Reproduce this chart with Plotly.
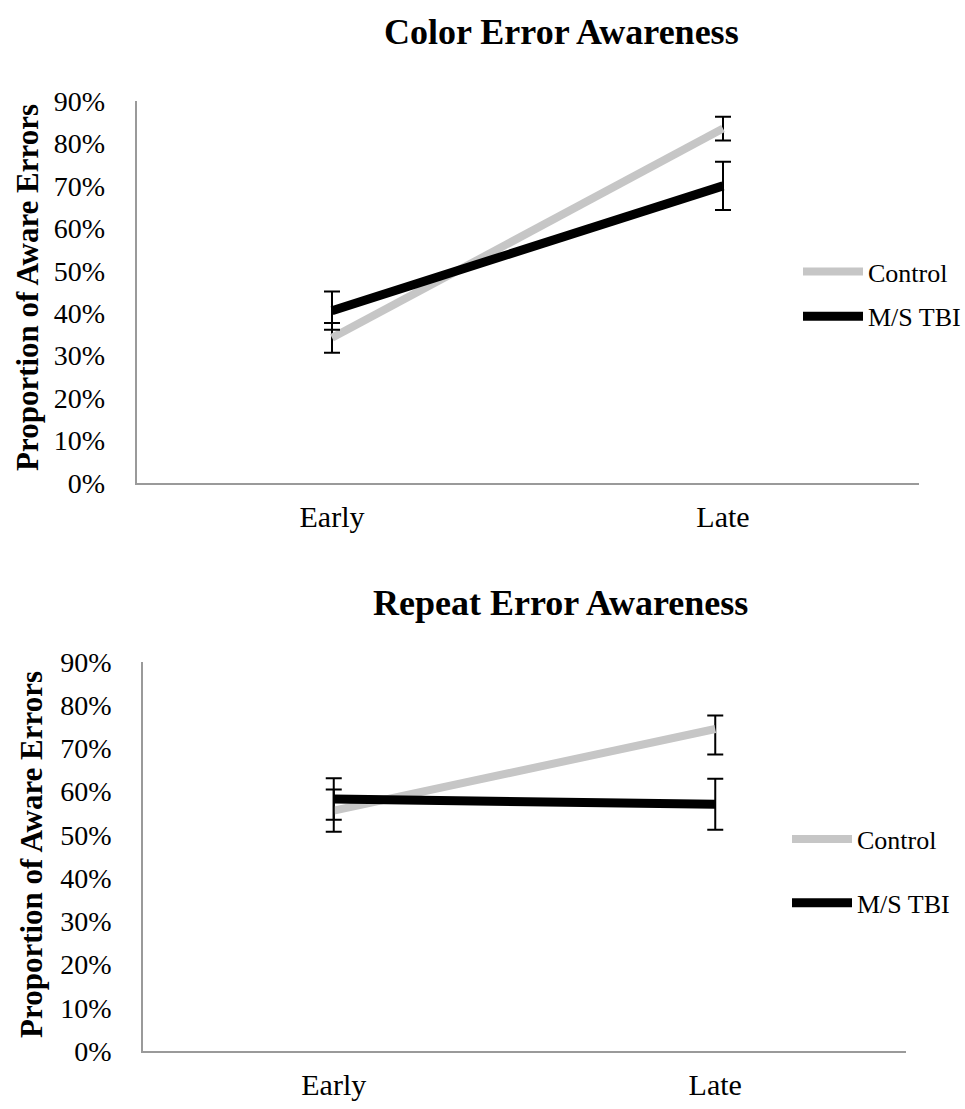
import plotly.graph_objects as go

# ---- data ----
phases = ["Early", "Late"]
groups = ["Control", "M/S TBI"]

color_control = [0.342, 0.835]
color_control_err = [0.035, 0.028]
color_tbi = [0.406, 0.700]
color_tbi_err = [0.045, 0.057]

repeat_control = [0.556, 0.745]
repeat_control_err_plus = [0.049, 0.031]
repeat_control_err_minus = [0.049, 0.059]
repeat_tbi = [0.583, 0.571]
repeat_tbi_err = [0.048, 0.059]

y_ticks = [0, 0.1, 0.2, 0.3, 0.4, 0.5, 0.6, 0.7, 0.8, 0.9]

# ---- styling ----
W, H = 965, 1109
FONT = "Times New Roman, Liberation Serif, serif"
GRAY = "#c6c6c6"
BLACK = "#000000"
AXIS = "#9a9a9a"

def px_x(p):
    return p / W

def px_y(p):
    return 1 - p / H

fig = go.Figure()

def add_pair(xa, ya, legend, ctrl, ctrl_plus, ctrl_minus, tbi, tbi_err):
    fig.add_trace(go.Scatter(
        x=phases, y=ctrl, name=groups[0], mode="lines",
        line=dict(color=GRAY, width=8),
        error_y=dict(type="data", array=ctrl_plus, arrayminus=ctrl_minus,
                     symmetric=False, color=BLACK, thickness=2, width=8),
        xaxis=xa, yaxis=ya, legend=legend, legendgroup=legend + "c"))
    fig.add_trace(go.Scatter(
        x=phases, y=tbi, name=groups[1], mode="lines",
        line=dict(color=BLACK, width=9),
        error_y=dict(type="data", array=tbi_err, color=BLACK, thickness=2, width=8),
        xaxis=xa, yaxis=ya, legend=legend, legendgroup=legend + "t"))

add_pair("x", "y", "legend", color_control, color_control_err, color_control_err,
         color_tbi, color_tbi_err)
add_pair("x2", "y2", "legend2", repeat_control, repeat_control_err_plus,
         repeat_control_err_minus, repeat_tbi, repeat_tbi_err)

xaxis_common = dict(type="category", range=[-0.5, 1.5], showline=True, linecolor=AXIS,
                    linewidth=1.5, showgrid=False, zeroline=False, ticks="",
                    tickfont=dict(family=FONT, size=30, color=BLACK), automargin=False,
                    ticklabelstandoff=6, fixedrange=True)
yaxis_common = dict(range=[0, 0.9], tickvals=y_ticks, tickformat=".0%", showline=True,
                    linecolor=AXIS, linewidth=1.5, showgrid=False, zeroline=False,
                    ticks="", tickfont=dict(family=FONT, size=28, color=BLACK),
                    automargin=False, ticklabelstandoff=24, fixedrange=True)

legend_common = dict(font=dict(family=FONT, size=26, color=BLACK), bgcolor="rgba(0,0,0,0)",
                     xanchor="left", yanchor="middle", itemwidth=60)

fig.update_layout(
    template="none",
    width=W, height=H,
    margin=dict(l=0, r=0, t=0, b=0, autoexpand=False),
    paper_bgcolor="white", plot_bgcolor="white",
    font=dict(family=FONT, color=BLACK),
    xaxis=dict(domain=[px_x(136.5), px_x(918.5)], anchor="y", **xaxis_common),
    yaxis=dict(domain=[px_y(483), px_y(101)], anchor="x", **yaxis_common),
    xaxis2=dict(domain=[px_x(143), px_x(906)], anchor="y2", **xaxis_common),
    yaxis2=dict(domain=[px_y(1051), px_y(662)], anchor="x2", **yaxis_common),
    legend=dict(x=px_x(798), y=px_y(294), tracegroupgap=8, **legend_common),
    legend2=dict(x=px_x(787), y=px_y(871), tracegroupgap=27, **legend_common),
    showlegend=True,
    annotations=[
        dict(text="<b>Color Error Awareness</b>", x=px_x(561), y=px_y(32), xref="paper",
             yref="paper", xanchor="center", yanchor="middle", showarrow=False,
             font=dict(family=FONT, size=36, color=BLACK)),
        dict(text="<b>Repeat Error Awareness</b>", x=px_x(560), y=px_y(603), xref="paper",
             yref="paper", xanchor="center", yanchor="middle", showarrow=False,
             font=dict(family=FONT, size=36, color=BLACK)),
        dict(text="<b>Proportion of Aware Errors</b>", x=px_x(27), y=px_y(288),
             xref="paper", yref="paper", xanchor="center", yanchor="middle",
             textangle=-90, showarrow=False, font=dict(family=FONT, size=31, color=BLACK)),
        dict(text="<b>Proportion of Aware Errors</b>", x=px_x(31), y=px_y(855),
             xref="paper", yref="paper", xanchor="center", yanchor="middle",
             textangle=-90, showarrow=False, font=dict(family=FONT, size=31, color=BLACK)),
    ],
)

fig.write_html("out.html", config={"displayModeBar": False},
               post_script="document.body.style.margin='0';")
